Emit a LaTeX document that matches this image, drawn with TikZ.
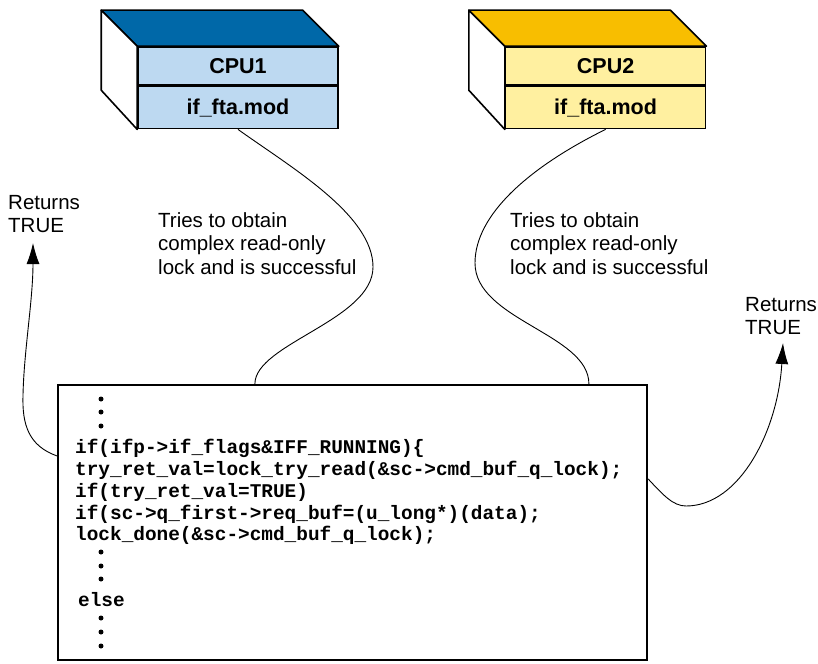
\documentclass[tikz,border=0pt]{standalone}
\usepackage{fontspec}
\setmainfont{Liberation Sans}
\newfontfamily\codefont{Liberation Mono}
\usetikzlibrary{positioning}
\usetikzlibrary{calc}
\usetikzlibrary{arrows.meta}
\definecolor{cpuAtop}{HTML}{0068A8}
\definecolor{cpuAfront}{HTML}{BDD9F1}
\definecolor{cpuBtop}{HTML}{F8BE00}
\definecolor{cpuBfront}{HTML}{FFF0A0}
\tikzset{cpubox/.style={draw,line width=1.6pt,minimum width=200pt,minimum height=38pt,inner sep=0pt,font=\fontsize{21.5}{24}\selectfont\bfseries}}
\tikzset{modbox/.style={cpubox,minimum height=42pt}}
\tikzset{face/.style={draw,line width=1.6pt,line join=round}}
\tikzset{codebox/.style={draw,line width=2.2pt,minimum width=589pt,minimum height=275pt}}
\tikzset{codeline/.style={anchor=base west,inner sep=0pt,font=\codefont\bfseries\fontsize{19.4}{21.8}\selectfont}}
\tikzset{note/.style={anchor=north west,align=left,inner sep=0pt,font=\fontsize{20.5}{23.5}\selectfont}}
\tikzset{wire/.style={line width=0.9pt}}
\tikzset{ret/.style={wire,-{Latex[length=21pt,width=13pt]}}}

\begin{document}
\begin{tikzpicture}[x=1pt, y=-1pt]
        \useasboundingbox (0,0) rectangle (818,663);

        % CPU1 block
        \node[cpubox, fill=cpuAfront] (cpu1) at (238,66) {CPU1};
        \node[modbox, fill=cpuAfront, below=0pt of cpu1] (mod1) {if\_fta.mod};
        \draw[face, fill=cpuAtop] (cpu1.north west) -- ++(-36,-36) -- ($(cpu1.north east)+(-36,-36)$) -- (cpu1.north east) -- cycle;
        \draw[face, fill=white] (cpu1.north west) -- ++(-36,-36) -- ++(0,80) -- (mod1.south west) -- cycle;

        % CPU2 block
        \node[cpubox, fill=cpuBfront, right=166pt of cpu1] (cpu2) {CPU2};
        \node[modbox, fill=cpuBfront, below=0pt of cpu2] (mod2) {if\_fta.mod};
        \draw[face, fill=cpuBtop] (cpu2.north west) -- ++(-36,-36) -- ($(cpu2.north east)+(-36,-36)$) -- (cpu2.north east) -- cycle;
        \draw[face, fill=white] (cpu2.north west) -- ++(-36,-36) -- ++(0,80) -- (mod2.south west) -- cycle;

        % code listing
        \node[codebox] (code) at (352.5,522.5) {};
        \node[codeline] (l1) at (75,453) {if(ifp->if\_flags\&IFF\_RUNNING)\{};
        \node[codeline] (l2) at (75,475) {try\_ret\_val=lock\_try\_read(\&sc->cmd\_buf\_q\_lock);};
        \node[codeline] (l3) at (75,497) {if(try\_ret\_val=TRUE)};
        \node[codeline] (l4) at (75,519) {if(sc->q\_first->req\_buf=(u\_long*)(data);};
        \node[codeline] (l5) at (75,540) {lock\_done(\&sc->cmd\_buf\_q\_lock);};
        \node[codeline] (l6) at (78,606) {else};
        \foreach \y in {399,412,426,552,566,579,618,632,646}
            \fill (101,\y) circle (2.5pt);

        % notes
        \node[note] (try1) at (158,212) {Tries to obtain\\complex read-only\\lock and is successful};
        \node[note] (try2) at (510,212) {Tries to obtain\\complex read-only\\lock and is successful};
        \node[note] (ret1) at (8,195) {Returns\\TRUE};
        \node[note] (ret2) at (745,297) {Returns\\TRUE};
        \coordinate (tip1) at (33,243);
        \coordinate (tip2) at (783,343);

        \draw[wire] (mod1.south) .. controls +(53,38) and +(0,-52) .. (373,267) .. controls +(0,53) and +(0,-40) .. ($(code.north west)+(198,0)$);
        \draw[wire] (mod2.south) .. controls +(-77,38) and +(0,-48) .. (475,263) .. controls +(0,57) and +(0,-50) .. ($(code.north west)+(532,0)$);
        \draw[ret] ($(code.north west)+(0,72)$) .. controls +(-28,-10) and +(-1,30) .. (23,395) .. controls +(1,-45) and +(0,57) .. (tip1);
        \draw[ret] ($(code.north east)+(0,95)$) .. controls +(15,16) and +(-13,0) .. (686,506) .. controls +(54,0) and +(-5,87) .. (tip2);
    \end{tikzpicture}
\end{document}
